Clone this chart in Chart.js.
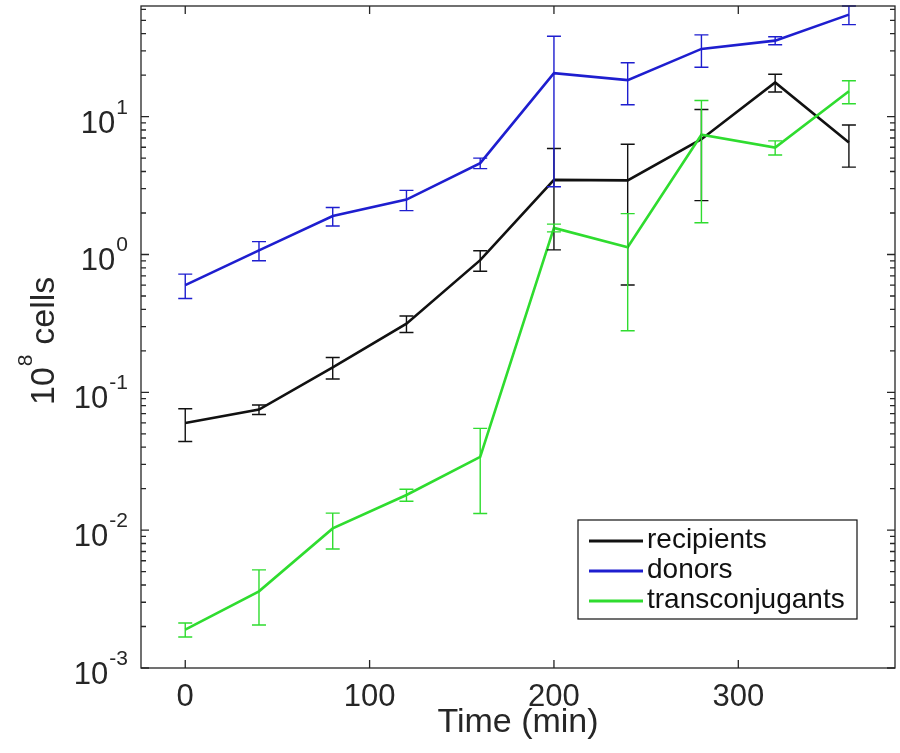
<!DOCTYPE html>
<html>
<head>
<meta charset="utf-8">
<script src="https://cdn.jsdelivr.net/npm/chart.js@4.4.0/dist/chart.umd.min.js"></script>
<style>
  html, body { margin: 0; padding: 0; background: #fff; }
</style>
</head>
<body>
<canvas id="myChart" width="900" height="753"></canvas>
<script>
// sampling times (min)
const times = [0, 40, 80, 120, 160, 200, 240, 280, 320, 360];

// cell counts in units of 10^8, with +/- error
const recipients    = [0.060, 0.075, 0.152, 0.315, 0.91, 3.48, 3.45, 6.86, 17.7, 6.5];
const recipientsErr = [0.016, 0.006, 0.027, 0.043, 0.155, 2.4, 2.85, 4.4, 2.6, 2.2];
const donors        = [0.60, 1.07, 1.90, 2.50, 4.6, 20.7, 18.4, 31.0, 35.6, 55.0];
const donorsErr     = [0.12, 0.17, 0.29, 0.42, 0.4, 17.6, 6.2, 8.2, 2.4, 8.5];
const transconj     = [0.0019, 0.0036, 0.0103, 0.018, 0.034, 1.56, 1.13, 7.4, 5.97, 15.3];
const transconjErr  = [0.00022, 0.00155, 0.003, 0.0018, 0.0208, 0.1, 0.85, 5.7, 0.7, 2.9];

const xTicks = [0, 100, 200, 300];
const yDecades = [-3, -2, -1, 0, 1];

const FONT = '"Liberation Sans", Arial, Helvetica, sans-serif';
const AXIS_COLOR = '#262626';

function series(label, values, err, color, order) {
    return {
        label: label,
        data: times.map((t, i) => ({ x: t, y: values[i] })),
        err: err,
        borderColor: color,
        backgroundColor: color,
        borderWidth: 2.6,
        pointRadius: 0,
        pointHoverRadius: 0,
        tension: 0,
        order: order,
    };
}

// draws "base" with a raised "sup" after it, right edge / centre / left edge at x
function drawPower(ctx, base, sup, x, y, align, size, supSize, rise) {
    ctx.font = `${size}px ${FONT}`;
    const wb = ctx.measureText(base).width;
    ctx.font = `${supSize}px ${FONT}`;
    const ws = ctx.measureText(sup).width;
    let left = x;
    if (align === 'right') left = x - wb - ws;
    if (align === 'center') left = x - (wb + ws) / 2;
    ctx.textAlign = 'left';
    ctx.textBaseline = 'alphabetic';
    ctx.font = `${size}px ${FONT}`;
    ctx.fillText(base, left, y);
    ctx.font = `${supSize}px ${FONT}`;
    ctx.fillText(sup, left + wb + 1, y - rise);
    return wb + ws;
}

const errorBars = {
    id: 'errorBars',
    afterDatasetsDraw(chart) {
        const { ctx, scales: { x, y } } = chart;
        ctx.save();
        ctx.lineWidth = 1.4;
        chart.data.datasets.forEach((ds) => {
            ctx.strokeStyle = ds.borderColor;
            ds.data.forEach((p, i) => {
                const px = x.getPixelForValue(p.x);
                const lo = y.getPixelForValue(Math.max(p.y - ds.err[i], 1e-4));
                const hi = y.getPixelForValue(p.y + ds.err[i]);
                ctx.beginPath();
                ctx.moveTo(px, lo); ctx.lineTo(px, hi);
                ctx.moveTo(px - 7, lo); ctx.lineTo(px + 7, lo);
                ctx.moveTo(px - 7, hi); ctx.lineTo(px + 7, hi);
                ctx.stroke();
            });
        });
        ctx.restore();
    }
};

const boxAxes = {
    id: 'boxAxes',
    afterDraw(chart) {
        const { ctx, chartArea: a, scales: { x, y } } = chart;
        ctx.save();
        ctx.strokeStyle = AXIS_COLOR;
        ctx.fillStyle = AXIS_COLOR;
        ctx.lineWidth = 1.3;
        ctx.strokeRect(a.left, a.top, a.right - a.left, a.bottom - a.top);

        ctx.beginPath();
        // x ticks, inward on bottom and top
        xTicks.forEach((t) => {
            const px = x.getPixelForValue(t);
            ctx.moveTo(px, a.bottom); ctx.lineTo(px, a.bottom - 8);
            ctx.moveTo(px, a.top); ctx.lineTo(px, a.top + 8);
        });
        // y major and minor ticks on both sides
        for (let e = -3; e <= 1; e++) {
            for (let k = 1; k <= 9; k++) {
                const v = k * Math.pow(10, e);
                if (v > y.max) break;
                const py = y.getPixelForValue(v);
                const len = k === 1 ? 8 : 5;
                ctx.moveTo(a.left, py); ctx.lineTo(a.left + len, py);
                ctx.moveTo(a.right, py); ctx.lineTo(a.right - len, py);
            }
        }
        ctx.stroke();

        // x tick labels
        ctx.font = `31px ${FONT}`;
        ctx.textAlign = 'center';
        ctx.textBaseline = 'alphabetic';
        xTicks.forEach((t) => {
            ctx.fillText(String(t), x.getPixelForValue(t), a.bottom + 38);
        });

        // y tick labels as powers of ten
        yDecades.forEach((e) => {
            const py = y.getPixelForValue(Math.pow(10, e));
            drawPower(ctx, '10', String(e), a.left - 14, py + 16, 'right', 31, 21, 19);
        });

        // axis titles
        ctx.font = `34px ${FONT}`;
        ctx.textAlign = 'center';
        ctx.fillText('Time (min)', (a.left + a.right) / 2, 732);

        ctx.save();
        ctx.translate(54, (a.top + a.bottom) / 2);
        ctx.rotate(-Math.PI / 2);
        drawPower(ctx, '10', '8', -68, 0, 'left', 34, 21, 22);
        ctx.font = `34px ${FONT}`;
        ctx.textAlign = 'left';
        ctx.fillText(' cells', -68 + ctx.measureText('10').width + 13, 0);
        ctx.restore();

        // legend, lower right inside the axes
        const lx = a.right - 317, ly = a.bottom - 148, lw = 279, lh = 99;
        ctx.fillStyle = '#fff';
        ctx.fillRect(lx, ly, lw, lh);
        ctx.strokeStyle = '#111';
        ctx.lineWidth = 1.2;
        ctx.strokeRect(lx, ly, lw, lh);
        ctx.font = `28px ${FONT}`;
        ctx.textAlign = 'left';
        ctx.textBaseline = 'alphabetic';
        legendOrder.forEach((idx, r) => {
            const ds = chart.data.datasets[idx];
            const base = ly + 28 + r * 30;
            ctx.strokeStyle = ds.borderColor;
            ctx.lineWidth = 2.8;
            ctx.beginPath();
            ctx.moveTo(lx + 11, base - 7); ctx.lineTo(lx + 65, base - 7);
            ctx.stroke();
            ctx.fillStyle = '#111';
            ctx.fillText(ds.label, lx + 69, base);
        });
        ctx.restore();
    }
};

const datasets = [
    series('recipients', recipients, recipientsErr, '#111111', 3),
    series('donors', donors, donorsErr, '#1e1ecf', 2),
    series('transconjugants', transconj, transconjErr, '#2fdc2f', 1),
];
const legendOrder = [0, 1, 2];

let ctx = document.getElementById('myChart').getContext('2d');

let myChart = new Chart(ctx, {
    type: 'line',
    data: { datasets: datasets },
    options: {
        responsive: false,
        animation: false,
        layout: {
            padding: { top: 6, right: 5, left: 0, bottom: 0 }
        },
        scales: {
            x: {
                type: 'linear',
                min: -24,
                max: 385,
                grid: { display: false },
                border: { display: false },
                ticks: { display: false },
                afterFit: (s) => { s.height = 85; },
            },
            y: {
                type: 'logarithmic',
                min: 0.001,
                max: 63.5,
                grid: { display: false },
                border: { display: false },
                ticks: { display: false },
                afterFit: (s) => { s.width = 141; },
            }
        },
        plugins: {
            legend: { display: false },
            tooltip: { enabled: false },
        },
    },
    plugins: [errorBars, boxAxes],
});
</script>
</body>
</html>
